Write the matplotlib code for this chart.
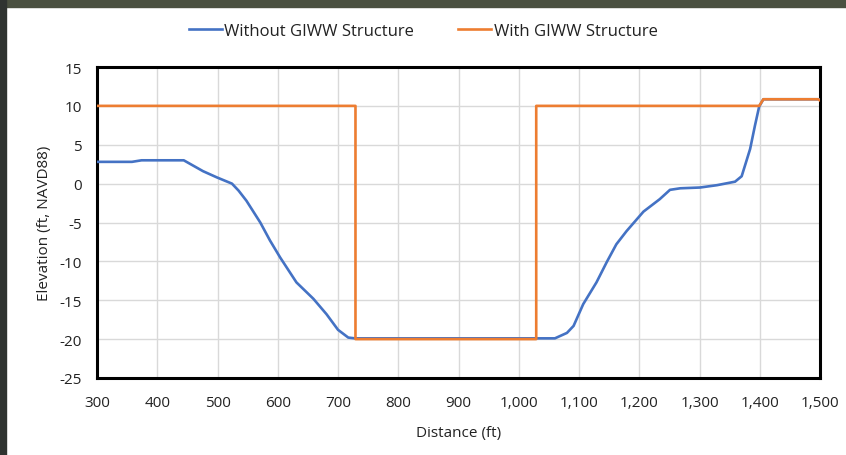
import matplotlib
matplotlib.use("Agg")
import matplotlib.pyplot as plt
from matplotlib.patches import Rectangle
from matplotlib.ticker import FuncFormatter, MultipleLocator

# Without GIWW structure (existing channel profile)
dist_without = [300, 358, 374, 444, 460, 476, 499, 524, 535, 548, 571, 587, 604,
                631, 659, 681, 700, 717, 728, 1060, 1080, 1091, 1107, 1129, 1146,
                1162, 1179, 1207, 1234, 1251, 1268, 1301, 1329, 1359, 1370, 1384,
                1392, 1399, 1406, 1500]
elev_without = [2.8, 2.8, 3.0, 3.0, 2.3, 1.6, 0.8, 0.0, -0.9, -2.2, -5.0, -7.3, -9.5,
                -12.7, -14.8, -16.8, -18.8, -19.8, -19.9, -19.9, -19.2, -18.3, -15.5,
                -12.7, -10.1, -7.8, -6.1, -3.6, -2.0, -0.8, -0.6, -0.5, -0.2, 0.25,
                0.95, 4.45, 7.45, 9.9, 10.85, 10.85]

# With GIWW structure
dist_with = [300, 729, 729, 1029, 1029, 1399, 1406, 1497, 1500]
elev_with = [10, 10, -20, -20, 10, 10, 10.85, 10.85, 10.7]

BLUE = "#4472C4"
ORANGE = "#ED7D31"

plt.rcParams["font.family"] = ["Open Sans", "DejaVu Sans"]
plt.rcParams["axes.unicode_minus"] = False

fig = plt.figure(figsize=(8.46, 4.56), dpi=100)

# screenshot border remnants (dark strip on top and left)
fig.patches.append(Rectangle((0, 1 - 8 / 456), 1, 8 / 456, transform=fig.transFigure,
                             color="#4a5040", zorder=0))
fig.patches.append(Rectangle((0, 0), 6 / 846, 1, transform=fig.transFigure,
                             color="#2f3330", zorder=0))

ax = fig.add_axes([97 / 846, 77 / 456, 723 / 846, 311 / 456])

ax.plot(dist_without, elev_without, color=BLUE, linewidth=1.9,
        label="Without GIWW Structure", zorder=3)
ax.plot(dist_with, elev_with, color=ORANGE, linewidth=1.9,
        label="With GIWW Structure", zorder=4)

ax.set_xlim(300, 1500)
ax.set_ylim(-25, 15)
ax.xaxis.set_major_locator(MultipleLocator(100))
ax.yaxis.set_major_locator(MultipleLocator(5))
ax.xaxis.set_major_formatter(FuncFormatter(lambda v, p: f"{int(v):,}"))
ax.grid(True, color="#d9d9d9", linewidth=1.0, zorder=0)
ax.tick_params(length=0, labelsize=11, colors="#222222")
ax.tick_params(axis="x", pad=12)
ax.tick_params(axis="y", pad=11)

for sp in ax.spines.values():
    sp.set_linewidth(2.2)
    sp.set_color("black")

ax.set_xlabel("Distance (ft)", fontsize=11, labelpad=11, color="#222222")
ax.set_ylabel("Elevation (ft, NAVD88)", fontsize=11, labelpad=5, color="#222222")

fig.legend(loc="center", bbox_to_anchor=(0.5, 1 - 32 / 456), ncol=2, frameon=False,
           fontsize=12, handlelength=2.0, handletextpad=0.15, columnspacing=2.6,
           labelcolor="#222222")

fig.savefig("out.png", dpi=100)
